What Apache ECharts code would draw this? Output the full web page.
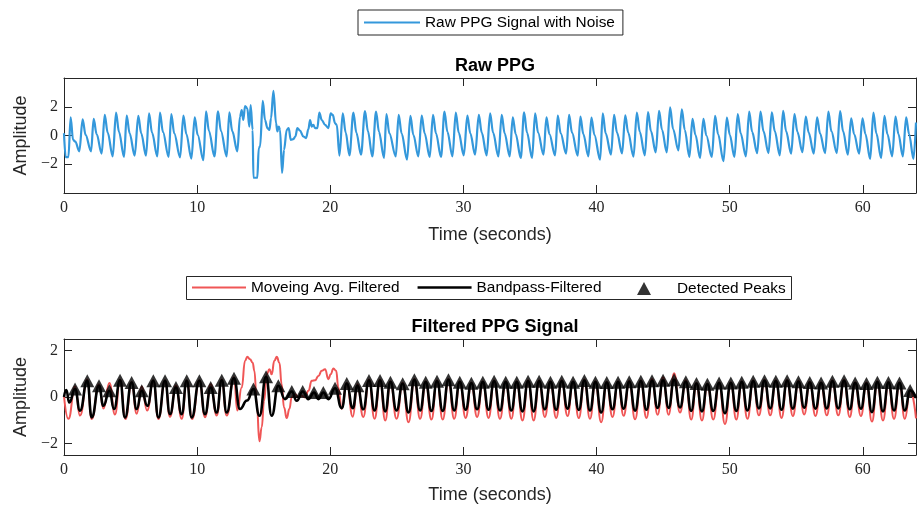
<!DOCTYPE html>
<html>
<head>
<meta charset="utf-8">
<script src="https://cdn.jsdelivr.net/npm/echarts@6.0.0/dist/echarts.min.js"></script>
<style>
html, body { margin: 0; padding: 0; background: #fff; }
#chart { width: 922px; height: 506px; }
</style>
</head>
<body>
<div id="chart"></div>
<script>
// ---------- Raw PPG: per-beat onset (foot), systolic peak and dicrotic notch ----------
const rawOnsetT = [0.33, 1.15, 2.03, 2.83, 3.66, 4.51, 5.31, 6.16, 7.01, 7.86, 8.72, 9.57, 10.47, 11.30, 12.22,
  20.69, 21.44, 22.31, 23.16, 24.04, 24.92, 25.77, 26.62, 27.47, 28.32, 29.18, 30.03, 30.88, 31.75, 32.63, 33.48,
  34.31, 35.16, 36.02, 36.89, 37.72, 38.59, 39.39, 40.27, 41.09, 41.92, 42.78, 43.63, 44.45, 45.28, 46.15, 46.98,
  47.78, 48.66, 49.54, 50.36, 51.22, 52.07, 52.92, 53.77, 54.62, 55.47, 56.32, 57.17, 58.05, 58.88, 59.73, 60.56,
  61.38, 62.21, 63.01];
const rawOnsetV = [-1.50, -1.10, -1.10, -1.26, -1.45, -1.49, -1.40, -1.40, -1.45, -1.49, -1.52, -1.61, -1.72, -1.45, -1.45,
  -1.40, -1.38, -1.33, -1.45, -1.56, -1.45, -1.68, -1.45, -1.49, -1.49, -1.45, -1.38, -1.33, -1.38, -1.45, -1.45,
  -1.56, -1.56, -1.33, -1.38, -1.26, -1.40, -1.45, -1.68, -1.33, -1.24, -1.47, -1.38, -1.17, -1.17, -1.03, -1.49,
  -1.56, -1.49, -1.79, -1.49, -1.45, -1.22, -1.22, -1.38, -1.26, -1.15, -1.26, -1.22, -1.22, -1.33, -1.26, -1.63,
  -1.56, -1.45, -1.45];
const rawPeakT = [0.50, 1.40, 2.23, 3.06, 3.91, 4.71, 5.58, 6.39, 7.21, 8.06, 8.97, 9.82, 10.67, 11.57, 12.42,
  20.94, 21.74, 22.61, 23.44, 24.22, 25.14, 26.02, 26.87, 27.72, 28.58, 29.43, 30.30, 31.16, 32.01, 32.88, 33.71,
  34.56, 35.39, 36.24, 37.09, 37.94, 38.79, 39.62, 40.47, 41.32, 42.16, 43.03, 43.87, 44.70, 45.53, 46.41, 47.21,
  48.03, 48.91, 49.79, 50.61, 51.47, 52.32, 53.17, 54.02, 54.87, 55.72, 56.57, 57.42, 58.30, 59.13, 59.98, 60.80,
  61.63, 62.46, 63.26];
const rawPeakV = [1.26, 1.13, 1.15, 1.43, 1.59, 1.38, 1.36, 1.54, 1.59, 1.49, 1.38, 1.26, 1.68, 1.68, 1.61,
  1.54, 1.59, 1.70, 1.66, 1.49, 1.43, 1.36, 1.38, 1.43, 1.66, 1.59, 1.38, 1.43, 1.54, 1.43, 1.26,
  1.61, 1.54, 1.26, 1.38, 1.43, 1.31, 1.24, 1.54, 1.43, 1.40, 1.60, 1.62, 1.72, 1.95, 1.82, 1.15,
  1.15, 1.36, 1.24, 1.49, 1.66, 1.66, 1.61, 1.72, 1.49, 1.31, 1.26, 1.66, 1.70, 1.20, 1.20, 1.59,
  1.36, 1.31, 1.26];
const rawNotchT = [0.68, 1.62, 2.45, 3.28, 4.13, 4.93, 5.80, 6.61, 7.43, 8.28, 9.19, 10.04, 10.89, 11.79, 12.64,
  21.16, 21.96, 22.83, 23.66, 24.44, 25.36, 26.24, 27.09, 27.94, 28.80, 29.65, 30.52, 31.38, 32.23, 33.10, 33.93,
  34.78, 35.61, 36.46, 37.31, 38.16, 39.01, 39.84, 40.69, 41.54, 42.38, 43.25, 44.09, 44.92, 45.75, 46.63, 47.43,
  48.25, 49.13, 50.01, 50.83, 51.69, 52.54, 53.39, 54.24, 55.09, 55.94, 56.79, 57.64, 58.52, 59.35, 60.20, 61.02,
  61.85, 62.68, 63.48];
const rawNotchV = [-0.30, 0.05, 0.10, 0.20, 0.25, 0.15, 0.15, 0.20, 0.25, 0.15, 0.10, 0.05, 0.30, 0.30, 0.30,
  0.20, 0.20, 0.30, 0.25, 0.15, 0.15, 0.05, 0.15, 0.15, 0.25, 0.20, 0.15, 0.20, 0.20, 0.15, 0.10,
  0.20, 0.20, 0.10, 0.15, 0.20, 0.10, 0.05, 0.15, 0.20, 0.20, 0.25, 0.30, 0.40, 0.45, 0.40, 0.05,
  0.00, 0.10, 0.05, 0.15, 0.25, 0.30, 0.30, 0.30, 0.25, 0.20, 0.15, 0.30, 0.30, 0.10, 0.10, 0.15,
  0.10, 0.10, 0.10];
// start of record, motion artefact (13-20.5 s) and end of record
const rawArtT = [0, 0.12, 0.85, 13.02, 13.22, 13.35, 13.47, 13.60, 13.77, 13.92, 14.02, 14.17, 14.23, 14.52,
  14.63, 14.73, 14.93, 15.10, 15.28, 15.43, 15.55, 15.73, 15.93, 16.03, 16.13, 16.23, 16.38, 16.53, 16.73, 16.88,
  17.03, 17.23, 17.38, 17.53, 17.73, 17.98, 18.18, 18.36, 18.48, 18.61, 18.73, 18.86, 19.03, 19.18, 19.36, 19.61,
  19.86, 20.03, 20.19, 20.36, 20.49, 63.81, 64];
const rawArtV = [0.16, -1.50, -0.42, -1.10, 1.31, 1.77, 1.08, 2.05, 1.89, 0.62, 2.11, 0.39, -2.94, -2.94,
  -0.87, -0.76, 2.41, 1.08, 0.51, 0.39, 1.20, 3.10, 0.85, 0.28, 0.62, 0.39, -2.60, -0.99, 0.39, 0.51,
  -0.30, -0.25, -0.07, 0.51, 0.34, -0.07, -0.18, 0.44, 1.08, 0.62, 0.74, 0.51, 0.51, 1.59, 1.08, 0.74,
  0.51, 1.54, 1.43, 0.85, 0.74, -1.63, 0.90];

// ---------- Band-pass filtered signal: peaks (also the detected peaks) and troughs ----------
const bpPeakT = [0.83, 1.75, 2.63, 3.41, 4.21, 5.08, 5.84, 6.71, 7.59, 8.41, 9.22, 10.17, 11.02, 11.85, 12.77,
  14.23, 15.18, 16.10, 17.11, 17.93, 18.78, 19.48, 20.36, 21.24, 22.04,
  22.91, 23.74, 24.52, 25.44, 26.32, 27.17, 28.02, 28.88, 29.73, 30.60, 31.46, 32.31, 33.18, 34.01, 34.86, 35.69,
  36.54, 37.39, 38.24, 39.09, 39.92, 40.77, 41.62, 42.46, 43.33, 44.17, 45.00, 45.83, 46.71, 47.51, 48.33, 49.21,
  50.09, 50.91, 51.77, 52.62, 53.47, 54.32, 55.17, 56.02, 56.87, 57.72, 58.60, 59.43, 60.28, 61.10, 61.93, 62.76,
  63.56];
const bpPeakV = [0.34, 0.70, 0.48, 0.27, 0.72, 0.62, 0.27, 0.70, 0.70, 0.41, 0.70, 0.70, 0.41, 0.72, 0.81,
  0.34, 0.87, 0.48, 0.24, 0.24, 0.19, 0.19, 0.38, 0.58, 0.48,
  0.71, 0.71, 0.64, 0.57, 0.74, 0.64, 0.68, 0.74, 0.64, 0.59, 0.64, 0.68, 0.64, 0.64, 0.68, 0.68,
  0.64, 0.68, 0.64, 0.71, 0.64, 0.62, 0.64, 0.66, 0.68, 0.70, 0.72, 0.74, 0.66, 0.58, 0.55, 0.60,
  0.60, 0.64, 0.68, 0.70, 0.68, 0.70, 0.66, 0.62, 0.60, 0.68, 0.70, 0.60, 0.58, 0.64, 0.62, 0.60,
  0.28];
const bpTroughT = [0.40, 1.20, 2.08, 2.96, 3.76, 4.58, 5.46, 6.26, 7.09, 7.96, 8.84, 9.59, 10.59, 11.47, 12.22,
  13.22, 14.68, 15.60, 16.60, 17.48, 18.36, 19.11, 19.86, 20.86, 21.69,
  22.48, 23.33, 24.13, 24.98, 25.88, 26.75, 27.60, 28.45, 29.31, 30.17, 31.03, 31.89, 32.75, 33.60, 34.44, 35.28,
  36.12, 36.97, 37.82, 38.67, 39.51, 40.35, 41.20, 42.04, 42.90, 43.75, 44.59, 45.42, 46.27, 47.11, 47.92, 48.77,
  49.65, 50.50, 51.34, 52.20, 53.05, 53.90, 54.75, 55.60, 56.45, 57.30, 58.16, 59.02, 59.86, 60.69, 61.52, 62.35,
  63.16];
const bpTroughV = [-0.24, -0.59, -0.88, -0.38, -0.52, -0.88, -0.52, -0.38, -0.88, -0.74, -0.74, -0.88, -0.74, -0.67, -0.67,
  -0.52, -0.81, -0.81, -0.09, -0.16, -0.09, -0.09, -0.09, -0.48, -0.48,
  -0.53, -0.58, -0.62, -0.58, -0.67, -0.58, -0.60, -0.60, -0.58, -0.55, -0.53, -0.55, -0.58, -0.58, -0.62, -0.62,
  -0.53, -0.55, -0.50, -0.56, -0.58, -0.67, -0.53, -0.50, -0.59, -0.55, -0.47, -0.47, -0.45, -0.60, -0.62, -0.60,
  -0.70, -0.60, -0.58, -0.49, -0.49, -0.55, -0.50, -0.46, -0.50, -0.49, -0.49, -0.53, -0.50, -0.65, -0.62, -0.58,
  -0.58];
const bpExtraT = [0, 0.17, 13.75, 64];
const bpExtraV = [0.00, 0.30, -0.15, -0.05];

// ---------- Moving-average filtered signal ----------
const maPeakT = [0.83, 1.75, 2.63, 3.41, 4.21, 5.08, 5.84, 6.71, 7.59, 8.41, 9.22, 10.17, 11.02, 11.85, 12.77,
  21.24, 22.04,
  22.91, 23.74, 24.52, 25.44, 26.32, 27.17, 28.02, 28.88, 29.73, 30.60, 31.46, 32.31, 33.18, 34.01, 34.86, 35.69,
  36.54, 37.39, 38.24, 39.09, 39.92, 40.77, 41.62, 42.46, 43.33, 44.17, 45.00, 45.83, 46.71, 47.51, 48.33, 49.21,
  50.09, 50.91, 51.77, 52.62, 53.47, 54.32, 55.17, 56.02, 56.87, 57.72, 58.60, 59.43, 60.28, 61.10, 61.93, 62.76,
  63.56];
const maPeakV = [0.45, 0.75, 0.55, 0.60, 0.75, 0.65, 0.45, 0.72, 0.72, 0.50, 0.72, 0.72, 0.55, 0.75, 0.85,
  0.60, 0.55,
  0.75, 0.75, 0.68, 0.61, 0.78, 0.68, 0.72, 0.78, 0.68, 0.63, 0.68, 0.72, 0.68, 0.68, 0.72, 0.72,
  0.68, 0.72, 0.68, 0.75, 0.68, 0.66, 0.68, 0.70, 0.72, 0.78, 0.85, 1.02, 0.72, 0.60, 0.58, 0.64,
  0.64, 0.68, 0.72, 0.74, 0.72, 0.74, 0.70, 0.66, 0.64, 0.72, 0.74, 0.64, 0.62, 0.68, 0.66, 0.64,
  0.30];
const maTroughT = [0.33, 1.20, 2.08, 2.96, 3.83, 4.62, 5.46, 6.24, 7.09, 7.96, 8.84, 9.62, 10.59, 11.47, 12.22,
  13.02, 20.86, 21.69,
  22.48, 23.33, 24.13, 24.98, 25.88, 26.75, 27.60, 28.45, 29.31, 30.17, 31.03, 31.89, 32.75, 33.60, 34.44, 35.28,
  36.12, 36.97, 37.82, 38.67, 39.51, 40.35, 41.20, 42.04, 42.90, 43.75, 44.59, 45.42, 46.27, 47.11, 47.92, 48.77,
  49.65, 50.50, 51.34, 52.20, 53.05, 53.90, 54.75, 55.60, 56.45, 57.30, 58.16, 59.02, 59.86, 60.69, 61.52, 62.35,
  63.16];
const maTroughV = [-0.94, -0.80, -0.95, -0.50, -0.75, -0.95, -0.72, -0.58, -0.95, -0.85, -0.94, -0.95, -0.87, -0.80, -0.80,
  -0.58, -0.52, -0.85,
  -0.86, -0.94, -1.01, -0.94, -1.09, -0.94, -0.97, -0.97, -0.94, -0.90, -0.86, -0.90, -0.94, -0.94, -1.01, -1.01,
  -0.86, -0.90, -0.82, -0.91, -0.94, -1.09, -0.86, -0.81, -0.96, -0.90, -0.76, -0.76, -0.67, -0.97, -1.01, -0.97,
  -1.16, -0.97, -0.94, -0.79, -0.79, -0.90, -0.82, -0.75, -0.82, -0.79, -0.79, -0.86, -0.82, -1.06, -1.01, -0.94,
  -0.94];
const maArtT = [0, 13.35, 13.60, 13.77, 13.97, 14.17, 14.30, 14.48, 14.68, 14.85, 15.03, 15.23, 15.43, 15.60, 15.80,
  15.98, 16.18, 16.35, 16.53, 16.73, 16.93, 17.10, 17.36, 17.60, 17.86, 18.10, 18.36, 18.61, 18.86, 19.11, 19.36,
  19.61, 19.86, 20.03, 20.24, 20.44, 20.61, 64];
const maArtV = [0.05, 0.41, 1.56, 1.73, 1.63, 1.48, 1.13, -0.31, -1.91, -1.31, -0.16, 0.98, 1.20, 0.98, 1.56,
  1.73, 1.48, 0.55, -0.45, -0.91, -0.52, -0.02, 0.12, -0.02, 0.05, -0.02, 0.27, 0.70, 0.72, 0.91, 1.13,
  1.20, 0.77, 0.98, 1.23, 1.13, 0.41, -0.92];

// ---------- Axis ticks ----------
const timeTicks = [0, 10, 20, 30, 40, 50, 60];
const ampTicks = [-2, 0, 2];

// merge several (t, v) lists into one time-ordered polyline
function merge(...pairs) {
  const out = [];
  for (const [ts, vs] of pairs) ts.forEach((t, i) => out.push([t, vs[i]]));
  return out.sort((a, b) => a[0] - b[0]);
}
const rawData = merge([rawOnsetT, rawOnsetV], [rawPeakT, rawPeakV], [rawNotchT, rawNotchV], [rawArtT, rawArtV]);
const bpData = merge([bpPeakT, bpPeakV], [bpTroughT, bpTroughV], [bpExtraT, bpExtraV]);
const maData = merge([maPeakT, maPeakV], [maTroughT, maTroughV], [maArtT, maArtV]);
const peakData = bpPeakT.map((t, i) => [t, bpPeakV[i]]);

const SANS = 'Liberation Sans, Arial, Helvetica, sans-serif';
const SERIF = 'Liberation Serif, Times New Roman, serif';
const AX = '#262626';
const BLUE = '#3498db';
const RED = '#f05656';
const LEGEND_FONT = 15.4;

const minus = v => String(v).replace('-', '\u2212');
const lineCommon = { show: true, onZero: false, lineStyle: { color: AX, width: 1 } };
const tickCommon = (vals) => ({ show: true, inside: true, length: 8, customValues: vals, lineStyle: { color: AX, width: 1 } });

function xPair(gridIndex, gap) {
  return [
    { type: 'value', gridIndex, position: 'bottom', min: 0, max: 64,
      name: 'Time (seconds)', nameLocation: 'middle', nameGap: gap,
      nameTextStyle: { fontFamily: SANS, fontSize: 18, color: AX },
      axisLine: lineCommon, axisTick: tickCommon(timeTicks),
      axisLabel: { show: true, customValues: timeTicks, margin: 7, fontFamily: SERIF, fontSize: 16, color: AX, formatter: minus },
      splitLine: { show: false } },
    { type: 'value', gridIndex, position: 'top', min: 0, max: 64,
      axisLine: lineCommon, axisTick: tickCommon(timeTicks), axisLabel: { show: false }, splitLine: { show: false } }
  ];
}
function yPair(gridIndex, lo, hi) {
  return [
    { type: 'value', gridIndex, position: 'left', min: lo, max: hi,
      name: 'Amplitude', nameLocation: 'middle', nameGap: 31,
      nameTextStyle: { fontFamily: SANS, fontSize: 18, color: AX },
      axisLine: lineCommon, axisTick: tickCommon(ampTicks),
      axisLabel: { show: true, customValues: ampTicks, margin: 6, fontFamily: SERIF, fontSize: 16, color: AX, formatter: minus },
      splitLine: { show: false } },
    { type: 'value', gridIndex, position: 'right', min: lo, max: hi,
      axisLine: lineCommon, axisTick: tickCommon(ampTicks), axisLabel: { show: false }, splitLine: { show: false } }
  ];
}

const chart = echarts.init(document.getElementById('chart'), null, { renderer: 'canvas' });
chart.setOption({
  animation: false,
  backgroundColor: '#ffffff',
  title: [
    { text: 'Raw PPG', left: 490, top: 52, textAlign: 'center',
      textStyle: { fontFamily: SANS, fontSize: 18, fontWeight: 'bold', color: '#000' } },
    { text: 'Filtered PPG Signal', left: 490, top: 313, textAlign: 'center',
      textStyle: { fontFamily: SANS, fontSize: 18, fontWeight: 'bold', color: '#000' } }
  ],
  // frame around the lower legend (its entries live in two legend components)
  graphic: [
    { type: 'rect', silent: true, z: 0,
      shape: { x: 186.5, y: 276.5, width: 605, height: 23 },
      style: { fill: '#fff', stroke: AX, lineWidth: 1 } }
  ],
  legend: [
    { left: 358, top: 10, orient: 'horizontal', padding: [5, 8, 5, 6],
      itemWidth: 56, itemHeight: 12, symbolKeepAspect: true,
      borderColor: AX, borderWidth: 1, backgroundColor: '#fff',
      itemStyle: { borderWidth: 0 },
      textStyle: { fontFamily: SANS, fontSize: LEGEND_FONT, color: '#000' },
      data: [{ name: 'Raw PPG Signal with Noise', icon: 'path://M0,0H56V2H0Z' }] },
    { left: 186, top: 276, orient: 'horizontal', padding: [4, 6, 4, 6],
      itemWidth: 54, itemHeight: 11, itemGap: 18, symbolKeepAspect: true,
      itemStyle: { borderWidth: 0 },
      textStyle: { fontFamily: SANS, fontSize: LEGEND_FONT, color: '#000' },
      data: [
        { name: 'Moveing Avg. Filtered', icon: 'path://M0,0H54V2H0Z' },
        { name: 'Bandpass-Filtered', icon: 'path://M0,0H54V2.4H0Z' }
      ] },
    { left: 637, top: 277, orient: 'horizontal', padding: [4, 6, 4, 0],
      itemWidth: 14, itemHeight: 13, icon: 'triangle',
      itemStyle: { borderWidth: 0 },
      formatter: name => '{g| }' + name,
      textStyle: { fontFamily: SANS, fontSize: LEGEND_FONT, color: '#000', rich: { g: { width: 21 } } },
      data: ['Detected Peaks'] }
  ],
  grid: [
    { left: 64, top: 78, width: 852, height: 115, containLabel: false },
    { left: 64, top: 339, width: 852, height: 116, containLabel: false }
  ],
  xAxis: [...xPair(0, 33), ...xPair(1, 31)],
  yAxis: [...yPair(0, -4, 4), ...yPair(1, -2.5, 2.5)],
  series: [
    { name: 'Raw PPG Signal with Noise', type: 'line', xAxisIndex: 0, yAxisIndex: 0,
      data: rawData, symbol: 'none', smooth: 0.35, smoothMonotone: 'x',
      lineStyle: { color: BLUE, width: 2.2 }, itemStyle: { color: BLUE } },
    { name: 'Moveing Avg. Filtered', type: 'line', xAxisIndex: 2, yAxisIndex: 2,
      data: maData, symbol: 'none', smooth: 0.5, smoothMonotone: 'x',
      lineStyle: { color: RED, width: 2 }, itemStyle: { color: RED } },
    { name: 'Bandpass-Filtered', type: 'line', xAxisIndex: 2, yAxisIndex: 2,
      data: bpData, symbol: 'none', smooth: 0.5, smoothMonotone: 'x', z: 3,
      lineStyle: { color: '#000', width: 2.6 }, itemStyle: { color: '#000' } },
    { name: 'Detected Peaks', type: 'scatter', xAxisIndex: 2, yAxisIndex: 2,
      data: peakData, symbol: 'triangle', symbolSize: [14, 13], z: 4,
      itemStyle: { color: '#000' } }
  ]
});
</script>
</body>
</html>
